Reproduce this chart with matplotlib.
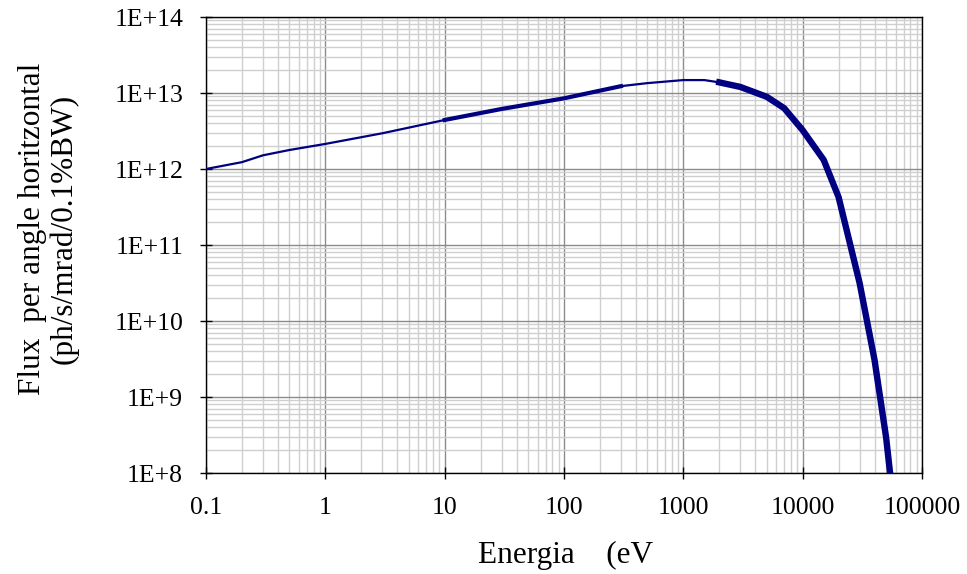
import numpy as np
import matplotlib
matplotlib.use("Agg")
import matplotlib.pyplot as plt
from matplotlib.ticker import LogLocator, FixedLocator, FixedFormatter, NullFormatter

# energy (eV) and flux per angle
energy = [0.1, 0.2, 0.3, 0.5, 1, 3, 10, 30, 100, 300, 500, 1000, 1500, 2000,
          3000, 5000, 7000, 10000, 15000, 20000, 30000, 40000, 50000, 54000]
flux_log = [12.0, 12.09, 12.18, 12.25, 12.33, 12.47, 12.645, 12.79, 12.93, 13.09,
            13.13, 13.17, 13.17, 13.14, 13.08, 12.95, 12.8, 12.51, 12.12, 11.63,
            10.5, 9.49, 8.47, 8.0]
flux = [10 ** v for v in flux_log]

x_ticks = [0.1, 1, 10, 100, 1000, 10000, 100000]
x_labels = ["0.1", "1", "10", "100", "1000", "10000", "100000"]
y_ticks = [1e8, 1e9, 1e10, 1e11, 1e12, 1e13, 1e14]
y_labels = ["1E+8", "1E+9", "1E+10", "1E+11", "1E+12", "1E+13", "1E+14"]

plt.rcParams['font.family'] = ['Liberation Serif', 'DejaVu Serif']

fig = plt.figure(figsize=(9.67, 5.74), dpi=100)
ax = fig.add_axes([206 / 967, 1 - 473 / 574, 716 / 967, 456 / 574])

ax.set_xscale('log')
ax.set_yscale('log')
ax.set_xlim(0.1, 100000)
ax.set_ylim(1e8, 1e14)

ax.xaxis.set_major_locator(FixedLocator(x_ticks))
ax.xaxis.set_major_formatter(FixedFormatter(x_labels))
ax.yaxis.set_major_locator(FixedLocator(y_ticks))
ax.yaxis.set_major_formatter(FixedFormatter(y_labels))
ax.xaxis.set_minor_locator(LogLocator(base=10, subs=np.arange(2, 10), numticks=20))
ax.yaxis.set_minor_locator(LogLocator(base=10, subs=np.arange(2, 10), numticks=20))
ax.xaxis.set_minor_formatter(NullFormatter())
ax.yaxis.set_minor_formatter(NullFormatter())

ax.grid(which='major', color='#8c8c8c', linewidth=1.0)
ax.grid(which='minor', color='#cfcfcf', linewidth=1.0)
ax.set_axisbelow(True)

ax.tick_params(which='major', direction='inout', length=9, width=1, labelsize=18.5)
ax.tick_params(axis='y', which='major', pad=12)
ax.tick_params(axis='x', which='major', pad=13)
ax.tick_params(which='minor', length=0)

for side in ['left', 'bottom', 'right', 'top']:
    ax.spines[side].set_color('black')
    ax.spines[side].set_linewidth(1.0)

e = np.array(energy)
f = np.array(flux)
ax.plot(e, f, color='#000080', linewidth=1.6, zorder=3)
thick = (e >= 10) & (e <= 300)
ax.plot(e[thick], f[thick], color='#000080', linewidth=3.0, zorder=3)
thick2 = e >= 2000
ax.plot(e[thick2], f[thick2], color='#000080', linewidth=4.6, zorder=3)

fig.text(566 / 967, 1 - 555 / 574, "Energia    (eV", fontsize=22.5,
         ha='center', va='center')
fig.text(48 / 967, 1 - 229 / 574, "Flux  per angle horitzontal\n(ph/s/mrad/0.1%BW)",
         fontsize=22.5, rotation=90, ha='center', va='center', linespacing=1.1,
         multialignment='center')

fig.savefig("out.png", dpi=100)
